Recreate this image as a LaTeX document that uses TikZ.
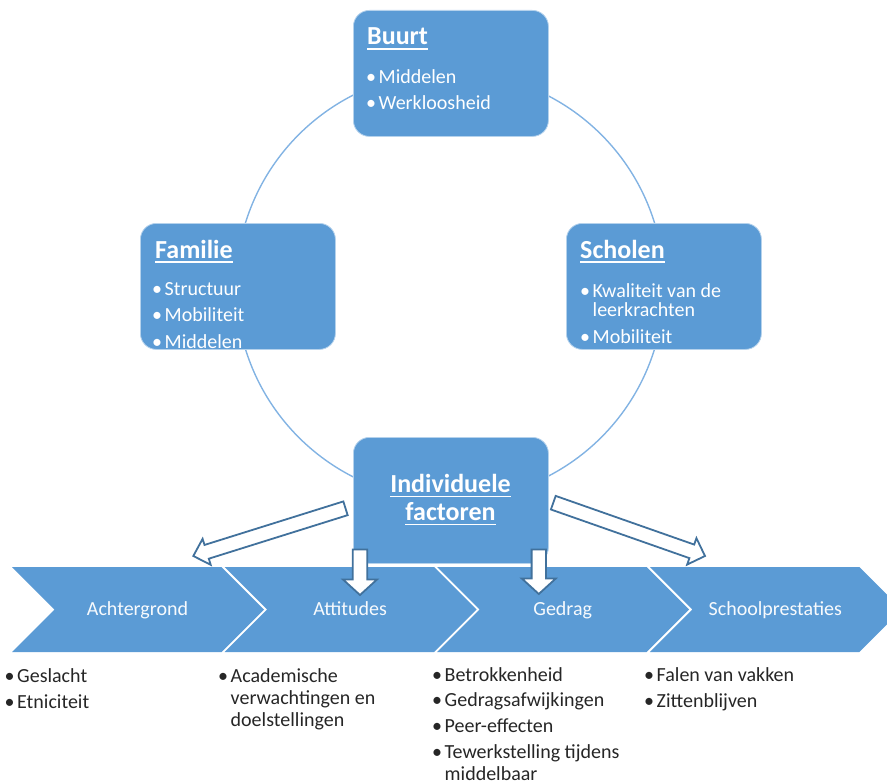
\documentclass[tikz,border=0pt]{standalone}
\usepackage{fontspec}
\setmainfont{Carlito}
\usetikzlibrary{calc}
\definecolor{boxblue}{HTML}{5B9BD5}
\definecolor{arrowline}{HTML}{41719C}
\definecolor{ringblue}{HTML}{82B3E3}
\definecolor{bodytext}{HTML}{262626}
\newcommand\bul{\makebox[6pt][c]{•}\hspace{4.5pt}}
\newcommand\bulind{\hspace*{10.5pt}}
\newcommand\topstrut{\rule{0pt}{16pt}}
\newcommand\myul[1]{\setbox0=\hbox{#1}\rlap{\rule[-5pt]{\wd0}{1.6pt}}\box0}
% block arrow: name, tail, tip, shaft half width, head half width, head length
\newcommand\blockarr[6]{%
  \coordinate (#1b) at ($(#3)!#6!(#2)$);
  \draw[barrow] ($(#2)!#4!90:(#3)$) -- ($(#1b)!#4!90:(#3)$) -- ($(#1b)!#5!90:(#3)$) -- (#3)
    -- ($(#1b)!#5!-90:(#3)$) -- ($(#1b)!#4!-90:(#3)$) -- ($(#2)!#4!-90:(#3)$) -- cycle;}
\begin{document}
\begin{tikzpicture}[x=1pt,y=-1pt,
  box/.style={fill=boxblue, draw=white!55!boxblue, line width=0.8pt, rounded corners=16pt,
    minimum width=195pt, minimum height=126pt, inner sep=0pt, anchor=north west},
  boxtitle/.style={text=white, font=\fontsize{26}{28}\selectfont\bfseries, inner sep=0pt, anchor=base west},
  boxlist/.style={text=white, font=\fontsize{20}{19.5}\selectfont, inner sep=0pt, anchor=north west, align=left},
  chevtext/.style={text=white!95!boxblue, font=\fontsize{20}{22}\selectfont, inner sep=0pt, anchor=base},
  bottomlist/.style={text=bodytext, font=\fontsize{20}{22}\selectfont, inner sep=0pt, anchor=north west, align=left},
  barrow/.style={fill=white, draw=arrowline, line width=1.8pt, line join=miter}]
\useasboundingbox (0,0) rectangle (887,784);

% ring
\draw[ringblue, line width=1.4pt] (450,286) circle[radius=214pt];

% boxes
\node[box] (buurt) at (353,10) {};
\node[box] (familie) at (140,223) {};
\node[box] (scholen) at (566,223) {};
\node[box] (indiv) at (353,437) {};

% box texts
\node[boxtitle] (buurtT) at (367,45) {\myul{Buurt}};
\node[boxlist] (buurtL) at (368,67) {\topstrut\bul Middelen\\[7.2pt]\bul Werkloosheid};
\node[boxtitle] (familieT) at (155,258) {\myul{Familie}};
\node[boxlist] (familieL) at (154,279) {\topstrut\bul Structuur\\[7.2pt]\bul Mobiliteit\\[7.2pt]\bul Middelen};
\node[boxtitle] (scholenT) at (580,258) {\myul{Scholen}};
\node[boxlist] (scholenL) at (582,281) {\topstrut\bul Kwaliteit van de\\\bulind leerkrachten\\[7.2pt]\bul Mobiliteit};
\node[text=white, font=\fontsize{26}{28}\selectfont\bfseries, inner sep=0pt, anchor=north, align=center]
  (indivT) at (450.5,472) {\rule{0pt}{20pt}\myul{Individuele}\\\myul{factoren}};

% chevrons
\foreach \i/\lab in {0/Achtergrond,1/Attitudes,2/Gedrag,3/Schoolprestaties}{
  \pgfmathsetmacro\xa{12+212.6*\i}
  \fill[boxblue] (\xa,567) -- ++(209.5,0) -- ++(42.5,42.5) -- ++(-42.5,42.5) -- ++(-209.5,0) -- ++(42.5,-42.5) -- cycle;
  \node[chevtext] (chev\i) at ({\xa+125.5},615) {\lab};
}

% block arrows
\coordinate (laT) at (345.5,508.3); \coordinate (laP) at (193.3,556);
\coordinate (d1T) at (360,549.5);  \coordinate (d1P) at (360,595);
\coordinate (d2T) at (538.8,549.5); \coordinate (d2P) at (538.8,594);
\coordinate (raT) at (553.3,502.7); \coordinate (raP) at (705,556);
\blockarr{la}{laT}{laP}{7.2pt}{13.6pt}{14pt}
\blockarr{da}{d1T}{d1P}{7.2pt}{17pt}{15.5pt}
\blockarr{db}{d2T}{d2P}{7.2pt}{17pt}{15.5pt}
\blockarr{ra}{raT}{raP}{7.2pt}{14pt}{14pt}

% lists under the chevrons
\node[bottomlist] (col1) at (6.5,666) {\topstrut\bul Geslacht\\[4.3pt]\bul Etniciteit};
\node[bottomlist] (col2) at (220,666) {\topstrut\bul Academische\\\bulind verwachtingen en\\\bulind doelstellingen};
\node[bottomlist] (col3) at (434,665) {\topstrut\bul Betrokkenheid\\[3.6pt]\bul Gedragsafwijkingen\\[3.6pt]\bul Peer-effecten\\[3.6pt]\bul Tewerkstelling tijdens\\\bulind middelbaar};
\node[bottomlist] (col4) at (646,665) {\topstrut\bul Falen van vakken\\[4.3pt]\bul Zittenblijven};
\end{tikzpicture}
\end{document}
